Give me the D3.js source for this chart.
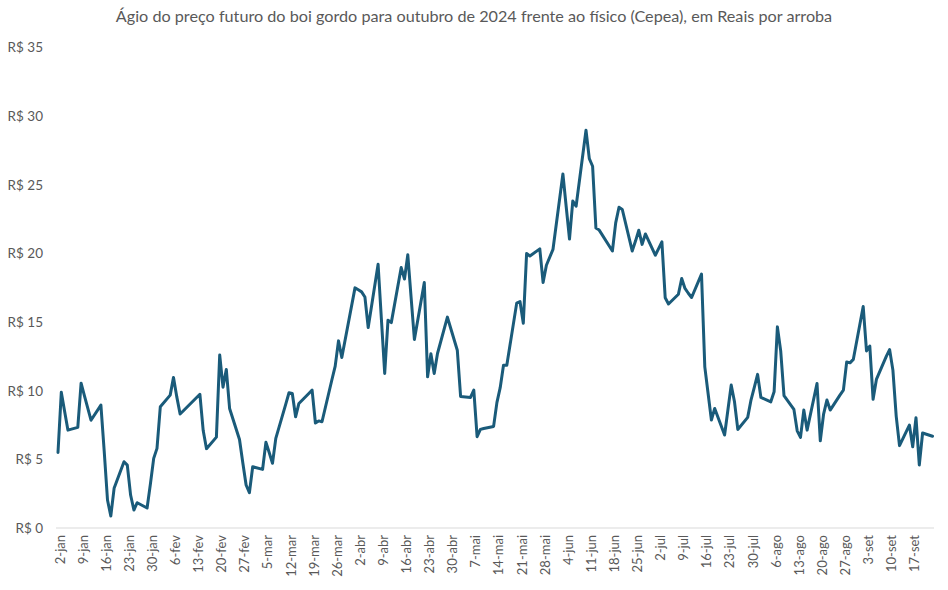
<!DOCTYPE html>
<html><head><meta charset="utf-8">
<script src="https://cdn.jsdelivr.net/npm/d3@7/dist/d3.min.js"></script>
<style>
html,body{margin:0;padding:0;background:#fff;}
svg{display:block;font-family:Lato,"Open Sans",sans-serif;}
</style></head>
<body><svg id="chart" width="948" height="590"></svg>
<script>
const title = "Ágio do preço futuro do boi gordo para outubro de 2024 frente ao físico (Cepea), em Reais por arroba";
const dates = ["2024-01-02","2024-01-03","2024-01-04","2024-01-05","2024-01-08","2024-01-09","2024-01-10","2024-01-11","2024-01-12","2024-01-15","2024-01-16","2024-01-17","2024-01-18","2024-01-19","2024-01-22","2024-01-23","2024-01-24","2024-01-25","2024-01-26","2024-01-29","2024-01-30","2024-01-31","2024-02-01","2024-02-02","2024-02-05","2024-02-06","2024-02-07","2024-02-08","2024-02-09","2024-02-14","2024-02-15","2024-02-16","2024-02-19","2024-02-20","2024-02-21","2024-02-22","2024-02-23","2024-02-26","2024-02-27","2024-02-28","2024-02-29","2024-03-01","2024-03-04","2024-03-05","2024-03-06","2024-03-07","2024-03-08","2024-03-11","2024-03-12","2024-03-13","2024-03-14","2024-03-15","2024-03-18","2024-03-19","2024-03-20","2024-03-21","2024-03-22","2024-03-25","2024-03-26","2024-03-27","2024-03-28","2024-04-01","2024-04-02","2024-04-03","2024-04-04","2024-04-05","2024-04-08","2024-04-09","2024-04-10","2024-04-11","2024-04-12","2024-04-15","2024-04-16","2024-04-17","2024-04-18","2024-04-19","2024-04-22","2024-04-23","2024-04-24","2024-04-25","2024-04-26","2024-04-29","2024-04-30","2024-05-02","2024-05-03","2024-05-06","2024-05-07","2024-05-08","2024-05-09","2024-05-10","2024-05-13","2024-05-14","2024-05-15","2024-05-16","2024-05-17","2024-05-20","2024-05-21","2024-05-22","2024-05-23","2024-05-24","2024-05-27","2024-05-28","2024-05-29","2024-05-31","2024-06-03","2024-06-04","2024-06-05","2024-06-06","2024-06-07","2024-06-10","2024-06-11","2024-06-12","2024-06-13","2024-06-14","2024-06-17","2024-06-18","2024-06-19","2024-06-20","2024-06-21","2024-06-24","2024-06-25","2024-06-26","2024-06-27","2024-06-28","2024-07-01","2024-07-02","2024-07-03","2024-07-04","2024-07-05","2024-07-08","2024-07-09","2024-07-10","2024-07-11","2024-07-12","2024-07-15","2024-07-16","2024-07-17","2024-07-18","2024-07-19","2024-07-22","2024-07-23","2024-07-24","2024-07-25","2024-07-26","2024-07-29","2024-07-30","2024-07-31","2024-08-01","2024-08-02","2024-08-05","2024-08-06","2024-08-07","2024-08-08","2024-08-09","2024-08-12","2024-08-13","2024-08-14","2024-08-15","2024-08-16","2024-08-19","2024-08-20","2024-08-21","2024-08-22","2024-08-23","2024-08-26","2024-08-27","2024-08-28","2024-08-29","2024-08-30","2024-09-02","2024-09-03","2024-09-04","2024-09-05","2024-09-06","2024-09-09","2024-09-10","2024-09-11","2024-09-12","2024-09-13","2024-09-16","2024-09-17","2024-09-18","2024-09-19","2024-09-20","2024-09-23"];
const agio = [5.5,9.88,8.5,7.13,7.33,10.55,9.65,8.75,7.85,8.95,5.6,2.04,0.87,2.89,4.83,4.58,2.4,1.31,1.84,1.46,3.2,5.07,5.8,8.83,9.68,10.97,9.55,8.3,8.54,9.74,7.1,5.78,6.62,12.6,10.26,11.55,8.71,6.45,4.75,3.13,2.57,4.46,4.27,6.24,5.5,4.71,6.53,9.0,9.85,9.8,8.1,9.07,9.8,10.04,7.65,7.8,7.74,10.8,11.79,13.63,12.42,17.49,17.35,17.2,16.83,14.6,19.21,15.2,11.26,15.14,14.96,18.97,18.14,19.9,16.8,13.73,17.88,11.01,12.69,11.26,12.71,15.36,14.55,12.95,9.58,9.51,10.04,6.65,7.18,7.25,7.4,9.13,10.22,11.86,11.86,16.38,16.5,14.92,19.99,19.81,20.33,17.88,19.14,20.3,25.79,23.4,21.05,23.82,23.44,28.97,26.9,26.35,21.85,21.7,20.56,20.18,22.23,23.36,23.2,20.18,20.9,21.69,20.66,21.42,19.87,20.35,20.84,16.77,16.32,17.03,18.17,17.45,17.1,16.79,18.49,11.74,9.8,7.86,8.71,6.77,8.6,10.41,9.19,7.18,8.06,9.32,10.25,11.19,9.51,9.19,9.92,14.65,12.9,9.65,8.64,7.08,6.6,8.59,7.13,10.53,6.35,8.3,9.32,8.59,9.7,10.04,12.1,12.03,12.28,16.13,12.9,13.25,9.37,10.82,12.5,13.0,11.5,8.15,6.0,7.5,5.92,8.03,4.59,6.92,6.68];
const yTicks = [0,5,10,15,20,25,30,35];
const monthNames = ["jan","fev","mar","abr","mai","jun","jul","ago","set","out","nov","dez"];
const tickStart = "2024-01-02", tickEnd = "2024-09-17";

const parse = d3.timeParse("%Y-%m-%d");
const data = dates.map((d,i)=>({date:parse(d), value:agio[i]}));

const svg = d3.select("#chart");
const x = d3.scaleTime().domain([data[0].date, data[data.length-1].date]).range([58, 932.5]);
const y = d3.scaleLinear().domain([0,35]).range([528, 47.5]);
const grey = "#595959";

// title
const t = svg.append("text").attr("x",474).attr("y",22).attr("text-anchor","middle")
  .attr("fill",grey).style("font-size","15px").text(title);
const w = t.node().getComputedTextLength();
t.style("font-size",(15*717/w).toFixed(2)+"px");

// y axis labels
const yAxis = d3.axisLeft(y).tickValues(yTicks).tickSize(0).tickPadding(0)
  .tickFormat(d=>"R$ "+d);
const gy = svg.append("g").attr("transform","translate(43,0)").call(yAxis);
gy.select(".domain").remove();
gy.selectAll("text").attr("fill",grey).style("font-size","13.5px").style("font-family","Lato, sans-serif");

// x axis
const tickVals = d3.timeDay.every(1).range(parse(tickStart), d3.timeDay.offset(parse(tickEnd),1)).filter((d,i)=>i%7===0);
const xAxis = d3.axisBottom(x).tickValues(tickVals).tickSize(0).tickPadding(0)
  .tickFormat(d=>d.getDate()+"-"+monthNames[d.getMonth()]);
const gx = svg.append("g").attr("transform","translate(0,528)").call(xAxis);
gx.select(".domain").remove();
gx.selectAll("text").attr("fill",grey).style("font-size","13px").style("font-family","Lato, sans-serif")
  .attr("text-anchor","end").attr("dy","0.35em").attr("y",0)
  .attr("transform","translate(1.5,7) rotate(-90)");

svg.append("line").attr("x1",56).attr("x2",934).attr("y1",y(0)).attr("y2",y(0))
  .attr("stroke","#d9d9d9").attr("stroke-width",1.2);

// line
const line = d3.line().x(d=>x(d.date)).y(d=>y(d.value));
svg.append("path").datum(data).attr("d",line).attr("fill","none")
  .attr("stroke","#1a5b7a").attr("stroke-width",3).attr("stroke-linejoin","round").attr("stroke-linecap","round");
</script></body></html>
